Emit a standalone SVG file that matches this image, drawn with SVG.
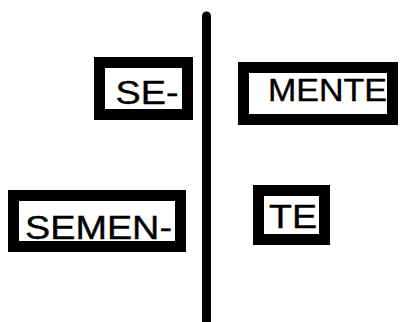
<svg xmlns="http://www.w3.org/2000/svg" width="408" height="322" viewBox="0 0 408 322">
<style>
.box{fill:#fff;stroke:#000;stroke-width:11}
.t{font-family:"Liberation Sans",Arial,sans-serif;fill:#000;stroke:#000;stroke-width:0.4}
</style>
<rect width="408" height="322" fill="#fff"/>
<g id="connectors">
<line x1="206.5" y1="16" x2="206.5" y2="322" stroke="#000" stroke-width="9" stroke-linecap="round"/>
</g>
<g id="se">
<rect class="box" x="99.5" y="62.5" width="88" height="52"/>
<text class="t" x="115.5" y="104" font-size="34" textLength="63" lengthAdjust="spacingAndGlyphs">SE-</text>
</g>
<g id="mente">
<rect class="box" x="243.5" y="67.5" width="149" height="52"/>
<text class="t" x="268" y="101" font-size="32" textLength="119" lengthAdjust="spacingAndGlyphs">MENTE</text>
</g>
<g id="semen">
<rect class="box" x="13.5" y="195.5" width="167" height="51"/>
<text class="t" x="25" y="239" font-size="34" textLength="147" lengthAdjust="spacingAndGlyphs">SEMEN-</text>
</g>
<g id="te">
<rect class="box" x="258.5" y="190.5" width="66" height="49"/>
<text class="t" x="269" y="228" font-size="34" textLength="48" lengthAdjust="spacingAndGlyphs">TE</text>
</g>
</svg>
